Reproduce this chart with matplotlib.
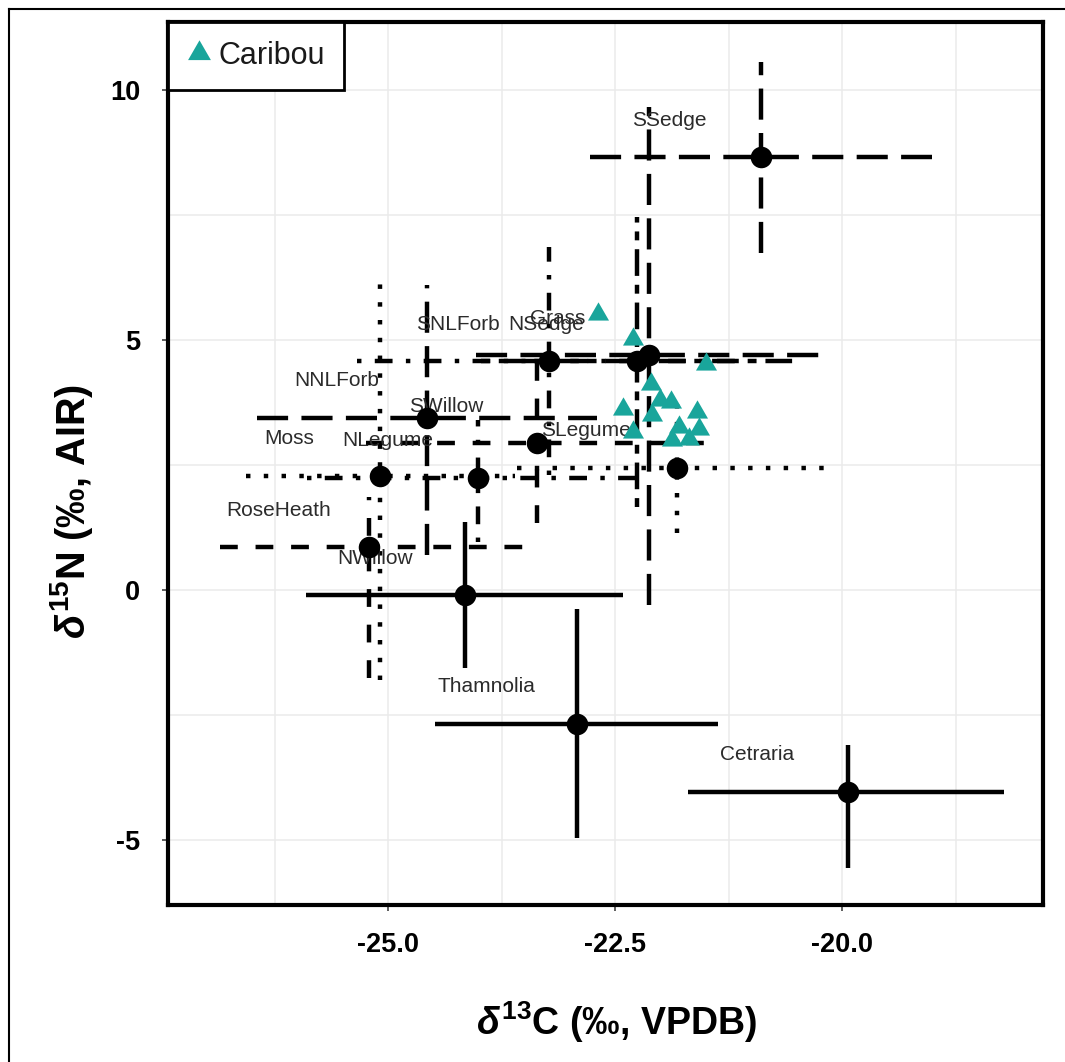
import matplotlib
matplotlib.use('Agg')
import matplotlib.pyplot as plt
from matplotlib.lines import Line2D

plt.rcParams['font.family'] = ['Liberation Sans', 'DejaVu Sans']
plt.rcParams['axes.unicode_minus'] = False
plt.rcParams['mathtext.fontset'] = 'custom'
plt.rcParams['mathtext.rm'] = 'Liberation Sans:bold'
plt.rcParams['mathtext.bf'] = 'Liberation Sans:bold'
plt.rcParams['mathtext.it'] = 'Liberation Sans:italic:bold'

# ---------------- data ----------------
groups = ['SSedge', 'Cetraria', 'Thamnolia', 'NWillow', 'RoseHeath', 'Moss',
          'NLegume', 'SWillow', 'NNLForb', 'SNLForb', 'NSedge', 'Grass', 'SLegume']
d13c = [-20.90, -19.94, -22.92, -24.15, -25.21, -25.09,
        -24.01, -23.36, -24.57, -23.23, -22.26, -22.13, -21.82]
d15n = [8.66, -4.04, -2.68, -0.10, 0.86, 2.28,
        2.24, 2.94, 3.44, 4.58, 4.58, 4.70, 2.44]
c_lo = [-22.78, -21.70, -24.48, -25.90, -26.85, -26.57,
        -25.89, -25.24, -26.44, -25.34, -23.98, -24.03, -23.58]
c_hi = [-19.01, -18.22, -21.37, -22.41, -23.44, -23.60,
        -22.13, -21.48, -22.70, -21.11, -20.54, -20.22, -20.06]
n_lo = [6.74, -5.56, -4.96, -1.56, -1.76, -1.80,
        0.96, 1.34, 0.70, 2.30, 1.66, -0.30, 1.14]
n_hi = [10.56, -3.10, -0.38, 1.36, 1.86, 6.30,
        3.40, 4.54, 6.10, 6.86, 7.46, 9.66, 3.74]
linetypes = ['longdash', 'solid', 'solid', 'solid', 'dashed', 'dotted',
             'dotdash', 'dashed', 'longdash', 'dotdash', 'twodash', 'longdash', 'dotted']

caribou_c = [-22.69, -22.30, -21.50, -22.11, -22.01, -21.89, -22.41,
             -22.10, -21.60, -22.30, -21.80, -21.58, -21.88, -21.69]
caribou_n = [5.53, 5.03, 4.53, 4.13, 3.80, 3.77, 3.63,
             3.50, 3.57, 3.17, 3.27, 3.23, 3.00, 3.03]

x_ticks = [-25.0, -22.5, -20.0]
x_ticklabels = ['-25.0', '-22.5', '-20.0']
x_minor = [-26.25, -23.75, -21.25, -18.75]
y_ticks = [10, 5, 0, -5]
y_ticklabels = ['10', '5', '0', '-5']
y_minor = [7.5, 2.5, -2.5]

# ---------------- styles ----------------
LT = {'solid': '-', 'dashed': (0, (4, 4)), 'dotted': (0, (1, 3)),
      'dotdash': (0, (1, 3, 4, 3)), 'longdash': (0, (7, 3)),
      'twodash': (0, (2, 2, 6, 2))}
TEAL = '#19A59B'

W, H = 1065, 1062
fig = plt.figure(figsize=(W / 100, H / 100), dpi=100)
ax = fig.add_axes([167.5 / W, 1 - 905 / H, (1043 - 167.5) / W, (905 - 22) / H])
ax.set_xlim(-27.43, -17.79)
ax.set_ylim(-6.3, 11.36)

ax.set_xticks(x_ticks)
ax.set_xticklabels(x_ticklabels)
ax.set_xticks(x_minor, minor=True)
ax.set_yticks(y_ticks)
ax.set_yticklabels(y_ticklabels)
ax.set_yticks(y_minor, minor=True)
ax.grid(which='both', color='#ebebeb', lw=1.1, zorder=0)
ax.set_axisbelow(True)
ax.tick_params(which='minor', length=0)
ax.tick_params(which='major', length=4.5, width=1.1, color='#333333', pad=15,
               labelsize=19.5)
for lab in ax.get_xticklabels() + ax.get_yticklabels():
    lab.set_fontweight('bold')
for sp in ax.spines.values():
    sp.set_linewidth(3)
    sp.set_color('black')
    sp.set_zorder(10)

# error bars
for i, g in enumerate(groups):
    ls = LT[linetypes[i]]
    ax.plot([c_lo[i], c_hi[i]], [d15n[i], d15n[i]], color='black', lw=3.2,
            ls=ls, solid_capstyle='butt', dash_capstyle='butt', zorder=2)
    ax.plot([d13c[i], d13c[i]], [n_lo[i], n_hi[i]], color='black', lw=3.2,
            ls=ls, solid_capstyle='butt', dash_capstyle='butt', zorder=2)

# labels
for i, g in enumerate(groups):
    ax.text(d13c[i] - 1.0, d15n[i] + 0.74, g, ha='center', va='center',
            fontsize=15, color='#2b2b2b', zorder=3)

# means
ax.plot(d13c, d15n, ls='none', marker='o', ms=15.5, color='black', mew=0, zorder=4)

# caribou
ax.plot(caribou_c, caribou_n, ls='none', marker=(3, 0, 0), ms=17.5, color=TEAL,
        mew=0, zorder=5)

handle = Line2D([], [], ls='none', marker=(3, 0, 0), ms=19, color=TEAL, mew=0)
leg = ax.legend([handle], ['Caribou'], loc='upper left', bbox_to_anchor=(0, 1),
                borderaxespad=0, frameon=True, fancybox=False, framealpha=1,
                edgecolor='black', fontsize=22, handlelength=0.85,
                handletextpad=0.2, borderpad=0.62)
leg.get_frame().set_linewidth(2)
leg.set_zorder(11)
for t in leg.get_texts():
    t.set_color('#1a1a1a')

# axis titles
fig.text(616 / W, 1 - 1022 / H, r'$\delta^{\mathbf{13}}$C (‰, VPDB)', ha='center',
         va='center', fontsize=27, fontweight='bold')
fig.text(72 / W, 1 - 511 / H, r'$\delta^{\mathbf{15}}$N (‰, AIR)', ha='center',
         va='center', fontsize=28.5, fontweight='bold', rotation=90)

# outer frame lines
fig.add_artist(Line2D([9 / W, 9 / W], [0, 1 - 9 / H], transform=fig.transFigure,
                      color='black', lw=1.5))
fig.add_artist(Line2D([9 / W, 1], [1 - 9 / H, 1 - 9 / H], transform=fig.transFigure,
                      color='black', lw=1.5))

fig.savefig('out.png', dpi=100)
